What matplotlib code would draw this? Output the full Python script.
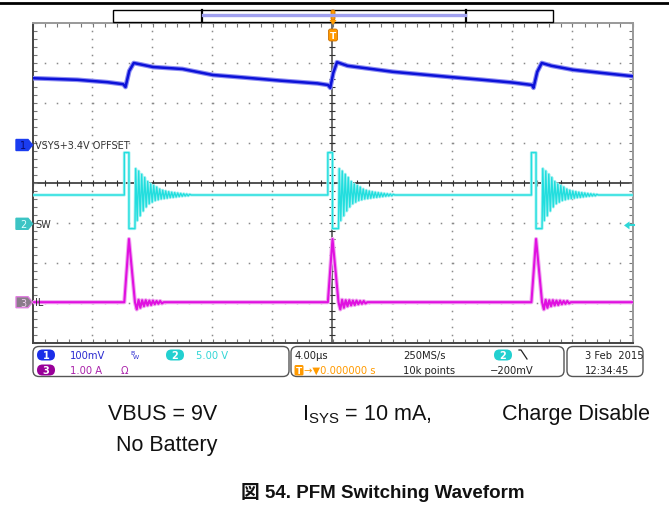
import numpy as np
import matplotlib.pyplot as plt
from matplotlib.patches import FancyBboxPatch, Polygon, Rectangle

W, H = 669, 510

# scope setup: 10 x 8 divisions, 4 us/div, trigger in the centre
t_div = 4.0
ch1_offset, ch1_vdiv, ch1_pos = 3.4, 0.1, 0.95     # VSYS (V), offset 3.4 V
ch2_vdiv, ch2_pos = 5.0, -1.02                     # SW node (V)
ch3_adiv, ch3_pos = 1.0, -2.98                     # inductor current (A)
trig_level = -0.2                                  # V on CH2, falling edge

# CH1: VSYS ripple (us, V)
vsys_t = [-20.0, -17.0, -15.0, -13.95, -13.8, -13.55, -13.25, -12.6, -11.97,
          -10.0, -7.97, -6.0, -3.5, -1.0, -0.3, -0.15, 0.05, 0.3, 1.0, 4.03,
          7.83, 10.0, 12.03, 13.3, 13.4, 13.65, 13.95, 14.6, 16.03, 18.0, 20.0]
vsys_v = [3.567, 3.563, 3.557, 3.552, 3.545, 3.585, 3.605, 3.600, 3.595,
          3.590, 3.575, 3.569, 3.561, 3.554, 3.550, 3.543, 3.580, 3.607, 3.598, 3.583,
          3.570, 3.563, 3.556, 3.550, 3.543, 3.583, 3.605, 3.598, 3.588, 3.580, 3.572]

# CH2 / CH3: one PFM burst per pulse
pulse_t = [-13.88, -0.31, 13.26]     # us, SW rising edge
t_high, t_low = 0.31, 0.40           # us
sw_base, sw_high, sw_low = 3.6, 8.9, -0.6
sw_ring = [3.3, -3.2, 3.0, -2.6, 2.6, -2.0, 2.2, -1.5, 1.7, -1.1, 1.4, -0.9,
           1.2, -0.7, 1.0, -0.6, 0.75, -0.5, 0.6, -0.45, 0.5, -0.4, 0.42,
           -0.33, 0.35, -0.3, 0.3, -0.25, 0.25, -0.2, 0.2, -0.16, 0.16, -0.12,
           0.12, -0.1, 0.08, 0.0]
ring_step = 0.1
il_peak = 1.58
il_ring = [-0.18, 0.06, -0.14, 0.05, -0.10, 0.05, -0.08, 0.04, -0.07, 0.04,
           -0.05, 0.03, -0.04, 0.03, -0.03, 0.0]
il_step = 0.12


def sw_trace():
    t, v = [-20.0], [sw_base]
    for p in pulse_t:
        t += [p, p, p + t_high, p + t_high, p + t_high + t_low]
        v += [sw_base, sw_high, sw_high, sw_low, sw_low]
        t0 = p + t_high + t_low
        for k, dv in enumerate(sw_ring):
            t.append(t0 + (k + 0.5) * ring_step)
            v.append(sw_base + dv)
    t.append(20.0)
    v.append(sw_base)
    return np.array(t), np.array(v)


def il_trace():
    t, i = [-20.0], [0.0]
    for p in pulse_t:
        t += [p, p + t_high, p + t_high + t_low]
        i += [0.0, il_peak, 0.0]
        t0 = p + t_high + t_low
        for k, di in enumerate(il_ring):
            t.append(t0 + (k + 1) * il_step)
            i.append(di)
    t.append(20.0)
    i.append(0.0)
    return np.array(t), np.array(i)


fig = plt.figure(figsize=(W / 100, H / 100), dpi=100)
fig.patch.set_facecolor('white')

# screen area in pixels: left, top, width, height
sx, sy, sw, sh = 32.5, 24, 600, 320
ax = fig.add_axes([sx / W, 1 - (sy + sh) / H, sw / W, sh / H])
ax.set_xlim(-20, 20)
ax.set_ylim(-4, 4)
ax.set_xticks(np.arange(-20, 20.01, 0.8))
ax.set_yticks(np.arange(-4, 4.01, 0.2))
ax.tick_params(direction='in', length=3, width=0.8, color='#777',
               top=True, right=True, labelbottom=False, labelleft=False)
for side, s in ax.spines.items():
    s.set_color('#444' if side in ('left', 'bottom') else '#999')
    s.set_linewidth(1.4)

# graticule dots
dot_x = np.arange(-20, 20.01, 0.8)
dot_y = np.arange(-4, 4.01, 0.2)
gx, gy = [], []
for xm in np.arange(-16, 16.1, t_div):
    if np.isclose(xm, 0):
        continue
    gx += [xm] * len(dot_y)
    gy += list(dot_y)
for ym in np.arange(-3, 3.1, 1):
    if np.isclose(ym, 0):
        continue
    gx += list(dot_x)
    gy += [ym] * len(dot_x)
ax.plot(gx, gy, ls='none', marker='s', ms=1.1, mew=0, color='#8a8a8a', zorder=1)

# centre cross with ticks
ax.axhline(0, color='#333', lw=1.2, zorder=1.5)
ax.axvline(0, color='#555', lw=1.2, zorder=1.5)
ax.plot(dot_x, np.zeros_like(dot_x), ls='none', marker='|', ms=5, mew=0.8,
        color='#333', zorder=1.5)
ax.plot(np.zeros_like(dot_y), dot_y, ls='none', marker='_', ms=5, mew=0.8,
        color='#333', zorder=1.5)

# traces
y1 = ch1_pos + (np.array(vsys_v) - ch1_offset) / ch1_vdiv
ax.plot(vsys_t, y1, color='#8c8cf2', lw=3.4, zorder=3)
ax.plot(vsys_t, y1, color='#0c12d8', lw=1.8, zorder=3.1)

t2, v2 = sw_trace()
y2 = ch2_pos + v2 / ch2_vdiv
ax.plot(t2, y2, color='#a8f2f2', lw=2.2, zorder=3)
ax.plot(t2, y2, color='#22dede', lw=1.0, zorder=3.1)

t3, i3 = il_trace()
y3 = ch3_pos + i3 / ch3_adiv
ax.plot(t3, y3, color='#f0a8f0', lw=3.0, zorder=3)
ax.plot(t3, y3, color='#e010e0', lw=1.5, zorder=3.1)

# overlay in pixel coordinates for the scope furniture and notes
ov = fig.add_axes([0, 0, 1, 1], zorder=5)
ov.set_xlim(0, W)
ov.set_ylim(H, 0)
ov.axis('off')
ov.patch.set_visible(False)

ov.plot([0, W], [4, 4], color='black', lw=2)


def div_to_px(d):
    return sy + sh / 2 - d * sh / 8


# record bar and trigger position
ov.add_patch(Rectangle((113, 11), 440, 12, fill=False, ec='black', lw=1))
ov.plot([202, 202], [11, 23], color='black', lw=1.6)
ov.plot([466, 466], [11, 23], color='black', lw=1.6)
ov.plot([203, 465], [15.5, 15.5], color='#a0a0f0', lw=2.4)
ov.add_patch(FancyBboxPatch((331, 11), 4, 10, boxstyle='round,pad=0,rounding_size=1.5',
                            fc='#ff9a00', ec='#cc7000', lw=0.6))
ov.add_patch(Polygon([(329.5, 21), (336.5, 21), (333, 26)], fc='#ff9a00', ec='none'))
ov.add_patch(FancyBboxPatch((328.5, 30), 9, 12, boxstyle='round,pad=0,rounding_size=2',
                            fc='#ff9a00', ec='#cc7000', lw=0.6))
ov.text(333, 36.5, 'T', color='white', fontsize=6.5, fontweight='bold',
        ha='center', va='center', family='DejaVu Sans')

# channel ground markers and names
tags = [(ch1_pos, '1', '#1a3cf0', '#1a3cf0', '#0a0a70', 'VSYS+3.4V OFFSET'),
        (ch2_pos, '2', '#3cc4c4', '#3cc4c4', '#e6ffff', 'SW'),
        (ch3_pos, '3', '#8a7c8a', '#e080e0', '#f0d0f0', 'IL')]
for pos, num, fc, ec, tc, name in tags:
    yc = div_to_px(pos)
    ov.add_patch(Polygon([(16, yc - 5.5), (28, yc - 5.5), (32.5, yc), (28, yc + 5.5),
                          (16, yc + 5.5)], fc=fc, ec=ec, lw=1))
    ov.text(23, yc + 0.5, num, color=tc, fontsize=7, ha='center', va='center',
            family='DejaVu Sans')
    ov.text(35, yc, name, color='#333', fontsize=7, ha='left', va='center',
            family='DejaVu Sans')

# trigger level arrow
yt = div_to_px(ch2_pos + trig_level / ch2_vdiv)
ov.add_patch(Polygon([(624, yt), (629.5, yt - 4), (629.5, yt + 4)], fc='#2ed8d8', ec='none'))
ov.plot([629, 634], [yt, yt], color='#2ed8d8', lw=1.5)

# status bar
for x0, w in [(33, 256), (291, 273), (567, 76)]:
    ov.add_patch(FancyBboxPatch((x0, 347.5), w, 30, boxstyle='round,pad=0,rounding_size=6',
                                fc='white', ec='#555', lw=1))
r1, r2 = 356, 371
badges = [(46, r1, '1', '#1a2ee8'), (46, r2, '3', '#990099'),
          (175, r1, '2', '#22d0d0'), (503, r1, '2', '#22d0d0')]
for xc, yc, num, c in badges:
    ov.add_patch(FancyBboxPatch((xc - 9, yc - 5.5), 18, 11,
                                boxstyle='round,pad=0,rounding_size=5.5', fc=c, ec='none'))
    ov.text(xc, yc + 0.3, num, color='white', fontsize=7, fontweight='bold',
            ha='center', va='center', family='DejaVu Sans')

status = dict(fontsize=7.2, family='DejaVu Sans', va='center', ha='left')
ov.text(70, r1, '100mV', color='#2a2ad0', **status)
ov.text(130, r1 - 2.5, 'B', color='#2a2ad0', fontsize=4.5, family='DejaVu Sans',
        va='center')
ov.text(133, r1 + 1.5, 'W', color='#2a2ad0', fontsize=4.5, family='DejaVu Sans',
        va='center')
ov.text(196, r1, '5.00 V', color='#33d6d6', **status)
ov.text(70, r2, '1.00 A', color='#aa22aa', **status)
ov.text(121, r2, 'Ω', color='#aa22aa', **status)
ov.text(295, r1, '4.00µs', color='#222', **status)
ov.add_patch(FancyBboxPatch((294.5, 366), 9, 10.5, boxstyle='round,pad=0,rounding_size=1.5',
                            fc='#ff9a00', ec='none'))
ov.text(299, r2 + 0.3, 'T', color='white', fontsize=6.5, fontweight='bold',
        ha='center', va='center', family='DejaVu Sans')
ov.text(304, r2, '→▼0.000000 s', color='#ff9a00', **status)
ov.text(403, r1, '250MS/s', color='#222', **status)
ov.text(403, r2, '10k points', color='#222', **status)
ov.plot([519, 521, 527], [351, 351, 360], color='#222', lw=0.9)
ov.text(490, r2, '−200mV', color='#222', **status)
ov.text(585, r1, '3 Feb  2015', color='#222', **status)
ov.text(585, r2, '12:34:45', color='#222', **status)

# test conditions and caption
plt.rcParams['mathtext.fontset'] = 'custom'
plt.rcParams['mathtext.rm'] = 'Liberation Sans'
note = dict(fontsize=15.5, family='Liberation Sans', color='#111', va='baseline', ha='left')
ov.text(108, 420, 'VBUS = 9V', **note)
ov.text(302, 420, r'I$_\mathregular{SYS}$ = 10 mA,', **note)
ov.text(502, 420, 'Charge Disable', **note)
ov.text(116, 451, 'No Battery', **note)
ov.text(383, 498, '図 54. PFM Switching Waveform', fontsize=13.5, fontweight='bold',
        family=['Liberation Sans', 'Noto Sans CJK JP'], color='#111',
        ha='center', va='baseline')

fig.savefig('out.png', dpi=100)
